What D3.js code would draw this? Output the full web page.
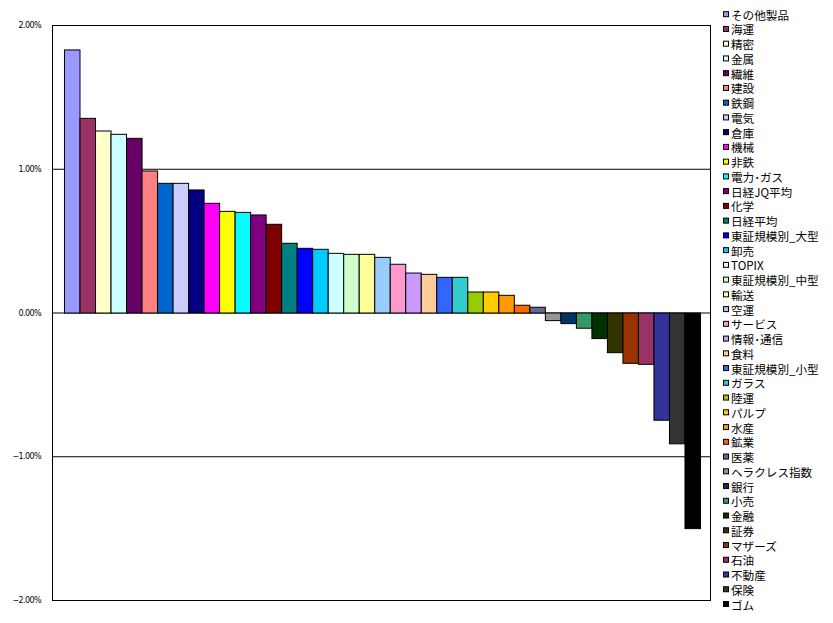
<!DOCTYPE html>
<html>
  <head>
    <meta charset="UTF-8">
    <script src="https://d3js.org/d3.v7.min.js"></script>
    <style>
      body { margin: 0; background: #fff; }
      .ytick { font-family: "DejaVu Sans", sans-serif; font-size: 8px; letter-spacing: -0.6px; }
      .legend text { font-family: "Noto Sans CJK JP", sans-serif; font-size: 11.6px; }
    </style>
    <title>騰落率</title>
  </head>
  <body>
    <svg id="chart" width="833" height="623"></svg>
    <script>
      // series (one bar each), in legend order
      const names = ["その他製品", "海運", "精密", "金属", "繊維", "建設", "鉄鋼", "電気", "倉庫", "機械",
        "非鉄", "電力･ガス", "日経JQ平均", "化学", "日経平均", "東証規模別_大型", "卸売", "TOPIX", "東証規模別_中型", "輸送",
        "空運", "サービス", "情報･通信", "食料", "東証規模別_小型", "ガラス", "陸運", "パルプ", "水産", "鉱業",
        "医薬", "ヘラクレス指数", "銀行", "小売", "金融", "証券", "マザーズ", "石油", "不動産", "保険", "ゴム"];
      const values = [1.83, 1.354, 1.266, 1.243, 1.215, 0.988, 0.902, 0.902, 0.856, 0.763,
        0.707, 0.700, 0.682, 0.617, 0.485, 0.450, 0.443, 0.415, 0.408, 0.408,
        0.387, 0.339, 0.278, 0.269, 0.248, 0.248, 0.146, 0.146, 0.123, 0.054,
        0.040, -0.053, -0.074, -0.106, -0.178, -0.276, -0.350, -0.357, -0.746, -0.910, -1.500];
      const colors = ["#9999FF", "#993366", "#FFFFCC", "#CCFFFF", "#660066", "#FF8080", "#0066CC", "#CCCCFF", "#000080", "#FF00FF",
        "#FFFF00", "#00FFFF", "#800080", "#800000", "#008080", "#0000FF", "#00CCFF", "#CCFFFF", "#CCFFCC", "#FFFF99",
        "#99CCFF", "#FF99CC", "#CC99FF", "#FFCC99", "#3366FF", "#33CCCC", "#99CC00", "#FFCC00", "#FF9900", "#FF6600",
        "#666699", "#969696", "#003366", "#339966", "#003300", "#333300", "#993300", "#993366", "#333399", "#333333", "#000000"];
      const yTicks = [2, 1, 0, -1, -2];

      const data = names.map((n, i) => ({ name: n, value: values[i], color: colors[i] }));

      const svg = d3.select("svg#chart");
      const plot = { left: 52, right: 710, top: 25, bottom: 600 };

      const x = d3.scaleBand().domain(names)
        .range([plot.left, plot.right])
        .paddingInner(0).paddingOuter(0.709).align(0.545);
      const y = d3.scaleLinear().domain([-2, 2]).range([plot.bottom, plot.top]);

      // gridlines
      svg.append("g").selectAll("line").data(yTicks).join("line")
        .attr("x1", plot.left).attr("x2", plot.right)
        .attr("y1", d => y(d) + 0.5).attr("y2", d => y(d) + 0.5)
        .attr("stroke", "#000").attr("stroke-width", 1);

      // bars
      svg.append("g").selectAll("rect").data(data).join("rect")
        .attr("x", d => x(d.name) + 0.5)
        .attr("width", x.bandwidth())
        .attr("y", d => Math.min(y(d.value), y(0)) + 0.5)
        .attr("height", d => Math.abs(y(d.value) - y(0)))
        .attr("fill", d => d.color)
        .attr("stroke", "#000").attr("stroke-width", 1);

      // frame: left axis and right border
      svg.append("line").attr("x1", plot.left + 0.5).attr("x2", plot.left + 0.5)
        .attr("y1", plot.top).attr("y2", plot.bottom + 1).attr("stroke", "#000");
      svg.append("line").attr("x1", plot.right + 0.5).attr("x2", plot.right + 0.5)
        .attr("y1", plot.top).attr("y2", plot.bottom + 1).attr("stroke", "#000");

      // y tick labels
      svg.append("g").selectAll("text").data(yTicks).join("text")
        .attr("class", "ytick")
        .attr("x", 41).attr("y", d => y(d) + 3)
        .attr("text-anchor", "end")
        .text(d => d3.format(".2f")(d) + "%");

      // legend
      const ly = d3.scalePoint().domain(names).range([14.7, 604.5]);
      const legend = svg.append("g").attr("class", "legend");
      legend.selectAll("rect").data(data).join("rect")
        .attr("x", 723.5).attr("y", d => ly(d.name) - 3)
        .attr("width", 5).attr("height", 5)
        .attr("fill", d => d.color).attr("stroke", "#000").attr("stroke-width", 1);
      legend.selectAll("text").data(data).join("text")
        .attr("x", 731).attr("y", d => ly(d.name) + 5)
        .text(d => d.name);
    </script>
  </body>
</html>
